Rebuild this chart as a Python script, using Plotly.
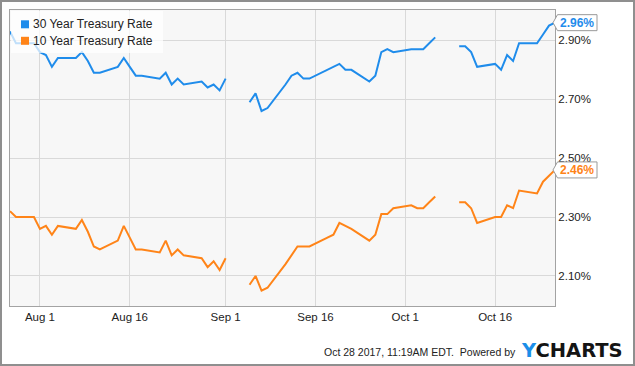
import plotly.graph_objects as go

# ---------------- data ----------------
dates = [
    "2017-07-27", "2017-07-28", "2017-07-31",
    "2017-08-01", "2017-08-02", "2017-08-03", "2017-08-04",
    "2017-08-07", "2017-08-08", "2017-08-09", "2017-08-10", "2017-08-11",
    "2017-08-14", "2017-08-15", "2017-08-16", "2017-08-17", "2017-08-18",
    "2017-08-21", "2017-08-22", "2017-08-23", "2017-08-24", "2017-08-25",
    "2017-08-28", "2017-08-29", "2017-08-30", "2017-08-31", "2017-09-01",
    "2017-09-04", "2017-09-05", "2017-09-06", "2017-09-07", "2017-09-08",
    "2017-09-11", "2017-09-12", "2017-09-13", "2017-09-14", "2017-09-15",
    "2017-09-18", "2017-09-19", "2017-09-20", "2017-09-21", "2017-09-22",
    "2017-09-25", "2017-09-26", "2017-09-27", "2017-09-28", "2017-09-29",
    "2017-10-02", "2017-10-03", "2017-10-04", "2017-10-05", "2017-10-06",
    "2017-10-09", "2017-10-10", "2017-10-11", "2017-10-12", "2017-10-13",
    "2017-10-16", "2017-10-17", "2017-10-18", "2017-10-19", "2017-10-20",
    "2017-10-23", "2017-10-24", "2017-10-25", "2017-10-26",
]

rate_30y = [
    2.93, 2.89, 2.89,
    2.86, 2.85, 2.81, 2.84,
    2.84, 2.86, 2.83, 2.79, 2.79,
    2.81, 2.84, 2.81, 2.78, 2.78,
    2.77, 2.79, 2.75, 2.77, 2.75,
    2.76, 2.74, 2.75, 2.73, 2.77,
    None, 2.69, 2.72, 2.66, 2.67,
    2.75, 2.78, 2.79, 2.77, 2.77,
    2.80, 2.81, 2.82, 2.80, 2.80,
    2.76, 2.78, 2.86, 2.87, 2.86,
    2.87, 2.87, 2.87, 2.89, 2.91,
    None, 2.88, 2.88, 2.86, 2.81,
    2.82, 2.80, 2.85, 2.83, 2.89,
    2.89, 2.92, 2.95, 2.96,
]

rate_10y = [
    2.32, 2.30, 2.30,
    2.26, 2.27, 2.24, 2.27,
    2.26, 2.29, 2.25, 2.20, 2.19,
    2.22, 2.27, 2.23, 2.19, 2.19,
    2.18, 2.22, 2.17, 2.19, 2.17,
    2.16, 2.13, 2.15, 2.12, 2.16,
    None, 2.07, 2.10, 2.05, 2.06,
    2.14, 2.17, 2.20, 2.20, 2.20,
    2.23, 2.24, 2.28, 2.27, 2.26,
    2.22, 2.24, 2.31, 2.31, 2.33,
    2.34, 2.33, 2.33, 2.35, 2.37,
    None, 2.35, 2.35, 2.33, 2.28,
    2.30, 2.30, 2.34, 2.33, 2.39,
    2.38, 2.42, 2.44, 2.46,
]

series_names = ["30 Year Treasury Rate", "10 Year Treasury Rate"]
series_values = [rate_30y, rate_10y]
series_colors = ["#1f8ceb", "#ff8418"]

tick_dates = ["2017-08-01", "2017-08-16", "2017-09-01",
              "2017-09-16", "2017-10-01", "2017-10-16"]
tick_labels = ["Aug 1", "Aug 16", "Sep 1", "Sep 16", "Oct 1", "Oct 16"]
y_ticks = [2.10, 2.30, 2.50, 2.70, 2.90]
y_tick_labels = ["2.10%", "2.30%", "2.50%", "2.70%", "2.90%"]
x_range = ["2017-07-27", "2017-10-26"]
y_range = [1.998, 3.003]

footer_text = "Oct 28 2017, 11:19AM EDT.\u00a0\u00a0Powered by"
logo_blue = "#1b8ee8"

# ---------------- geometry helpers ----------------
W, H = 635, 366
ML, MR, MT, MB = 10, 80, 10, 60
PW, PH = W - ML - MR, H - MT - MB
FONT = "Arial, 'Liberation Sans', sans-serif"


def px(x):
    return (x - ML) / PW


def py(y):
    return (H - MB - y) / PH


def vy(v):
    return (v - y_range[0]) / (y_range[1] - y_range[0])


fig = go.Figure()
for name, vals, col in zip(series_names, series_values, series_colors):
    fig.add_trace(go.Scatter(
        x=dates, y=vals, name=name, mode="lines",
        line=dict(color=col, width=2), connectgaps=False,
        showlegend=False, hoverinfo="skip",
    ))

shapes = []
annotations = []

# outer frame of the image
shapes.append(dict(type="rect", xref="paper", yref="paper",
                   x0=px(1), x1=px(634), y0=py(365), y1=py(1),
                   line=dict(color="#8f8f8f", width=2), fillcolor="rgba(0,0,0,0)",
                   layer="below"))

# legend box
shapes.append(dict(type="rect", xref="paper", yref="paper",
                   x0=px(11), x1=px(163), y0=py(53), y1=py(11),
                   line=dict(width=0), fillcolor="rgba(255,255,255,0.72)",
                   layer="above"))
for i, (name, col) in enumerate(zip(series_names, series_colors)):
    cy = 24.3 + i * 16.5
    shapes.append(dict(type="rect", xref="paper", yref="paper",
                       x0=px(21), x1=px(29), y0=py(cy + 4), y1=py(cy - 4),
                       line=dict(width=0), fillcolor=col, layer="above"))
    annotations.append(dict(xref="paper", yref="paper", x=px(31), y=py(cy),
                            xanchor="left", yanchor="middle", showarrow=False,
                            text=name, font=dict(family=FONT, size=12, color="#222")))

# end-value callouts
for vals, col in zip(series_values, series_colors):
    last = [v for v in vals if v is not None][-1]
    yc = vy(last)
    hh = 8.0 / PH
    x_tip, x_l, x_r = px(553), px(557.5), px(597)
    path = (f"M {x_tip},{yc} L {x_l},{yc + hh} L {x_r},{yc + hh} "
            f"L {x_r},{yc - hh} L {x_l},{yc - hh} Z")
    shapes.append(dict(type="path", xref="paper", yref="paper", path=path,
                       line=dict(color="#9a9a9a", width=1), fillcolor="white",
                       layer="above"))
    annotations.append(dict(xref="paper", yref="paper", x=(x_l + x_r) / 2, y=yc,
                            xanchor="center", yanchor="middle", showarrow=False,
                            text=f"<b>{last:.2f}%</b>",
                            font=dict(family=FONT, size=12, color=col)))

# footer
annotations.append(dict(xref="paper", yref="paper", x=px(322), y=py(352),
                        xanchor="left", yanchor="middle", showarrow=False,
                        text=footer_text,
                        font=dict(family=FONT, size=10.5, color="#222")))
annotations.append(dict(xref="paper", yref="paper", x=px(519), y=py(350),
                        xanchor="left", yanchor="middle", showarrow=False,
                        text=f"<b><span style='color:{logo_blue}'>Y</span>CHARTS</b>",
                        font=dict(family="'DejaVu Sans', sans-serif", size=19.5,
                                  color="#141414")))

fig.update_layout(
    width=W, height=H,
    margin=dict(l=ML, r=MR, t=MT, b=MB),
    paper_bgcolor="white", plot_bgcolor="#f7f7f7",
    showlegend=False,
    font=dict(family=FONT, size=11.5, color="#222"),
    shapes=shapes, annotations=annotations,
    xaxis=dict(type="date", range=x_range, tickvals=tick_dates, ticktext=tick_labels,
               showgrid=True, gridcolor="#d9d9d9", gridwidth=1,
               showline=True, linecolor="#a3a3a3", linewidth=1, mirror=True,
               ticks="", zeroline=False, tickfont=dict(size=11.5, color="#222")),
    yaxis=dict(side="right", range=y_range, tickvals=y_ticks, ticktext=y_tick_labels,
               showgrid=True, gridcolor="#d9d9d9", gridwidth=1,
               showline=True, linecolor="#a3a3a3", linewidth=1, mirror=True,
               ticks="", zeroline=False, tickfont=dict(size=11.5, color="#222")),
)

fig.write_html("out.html", config={"displayModeBar": False},
               post_script="document.body.style.margin='0';")
